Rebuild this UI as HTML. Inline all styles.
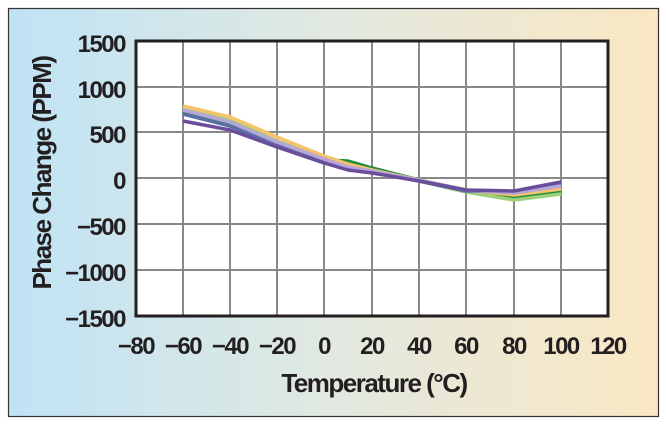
<!DOCTYPE html>
<html><head><style>
html,body{margin:0;padding:0;width:666px;height:425px;overflow:hidden;background:#fff}
</style></head><body>
<svg width="666" height="425" xmlns="http://www.w3.org/2000/svg" font-family="Liberation Sans, sans-serif">
<defs><linearGradient id="bg" x1="0" x2="1" y1="0" y2="0">
<stop offset="0" stop-color="#bfe3f5"/><stop offset="0.5" stop-color="#e2e9e0"/><stop offset="1" stop-color="#fae7c3"/></linearGradient></defs>
<rect x="8.5" y="8.5" width="650" height="408" fill="url(#bg)" stroke="#333" stroke-width="1.2"/>
<rect x="136" y="41" width="472" height="275" fill="#fff"/>
<g stroke="#888" stroke-width="2">
<line x1="183" y1="41" x2="183" y2="316"/><line x1="230" y1="41" x2="230" y2="316"/><line x1="277" y1="41" x2="277" y2="316"/><line x1="324" y1="41" x2="324" y2="316"/><line x1="372" y1="41" x2="372" y2="316"/><line x1="419" y1="41" x2="419" y2="316"/><line x1="466" y1="41" x2="466" y2="316"/><line x1="514" y1="41" x2="514" y2="316"/><line x1="561" y1="41" x2="561" y2="316"/>
<line x1="136" y1="87" x2="608" y2="87"/><line x1="136" y1="132" x2="608" y2="132"/><line x1="136" y1="178" x2="608" y2="178"/><line x1="136" y1="224" x2="608" y2="224"/><line x1="136" y1="270" x2="608" y2="270"/>
</g>
<g fill="none" stroke-width="3.5" stroke-linejoin="round">
<polyline stroke="#1e8c3c" points="183,112 230,123 277,144 324,160 348,161 372,168 419,180 466,190 514,198 561,192"/>
<polyline stroke="#9ed07a" points="183,108 230,120 277,141 324,158 348,166 372,171 419,181 466,192 514,200 561,194"/>
<polyline stroke="#f6c36a" points="183,106 230,117 277,137 324,156 348,164 372,170 419,180 466,190 514,195 561,189"/>
<polyline stroke="#5b6ea8" points="183,114 230,126 277,145 324,161 348,168 372,172 419,181 466,191 514,192 561,184"/>
<polyline stroke="#b8a6d8" points="183,110 230,122 277,142 324,159 348,167 372,171 419,180 466,190 514,193 561,186"/>
<polyline stroke="#6a4e9c" points="183,121 230,130 277,147 324,163 348,170 372,173 419,181 466,190 514,191 561,182"/>
</g>
<rect x="136" y="41" width="472" height="275" fill="none" stroke="#231f20" stroke-width="3"/>
<g font-size="24" font-weight="bold" fill="#231f20" text-anchor="end" style="letter-spacing:-1.5px">
<text x="125" y="52">1500</text><text x="125" y="98">1000</text><text x="125" y="143">500</text><text x="125" y="189">0</text><text x="125" y="235">−500</text><text x="125" y="281">−1000</text><text x="125" y="327">−1500</text>
</g>
<g font-size="24" font-weight="bold" fill="#231f20" text-anchor="middle" style="letter-spacing:-1.5px">
<text x="136" y="354">−80</text><text x="183" y="354">−60</text><text x="230" y="354">−40</text><text x="277" y="354">−20</text><text x="324" y="354">0</text><text x="372" y="354">20</text><text x="419" y="354">40</text><text x="466" y="354">60</text><text x="514" y="354">80</text><text x="561" y="354">100</text><text x="608" y="354">120</text>
</g>
<text x="374" y="392" font-size="26" font-weight="bold" fill="#231f20" text-anchor="middle" style="letter-spacing:-1.5px">Temperature (°C)</text>
<text transform="translate(51,173) rotate(-90)" font-size="26" font-weight="bold" fill="#231f20" text-anchor="middle" style="letter-spacing:-1.5px">Phase Change (PPM)</text>
</svg>
</body></html>
